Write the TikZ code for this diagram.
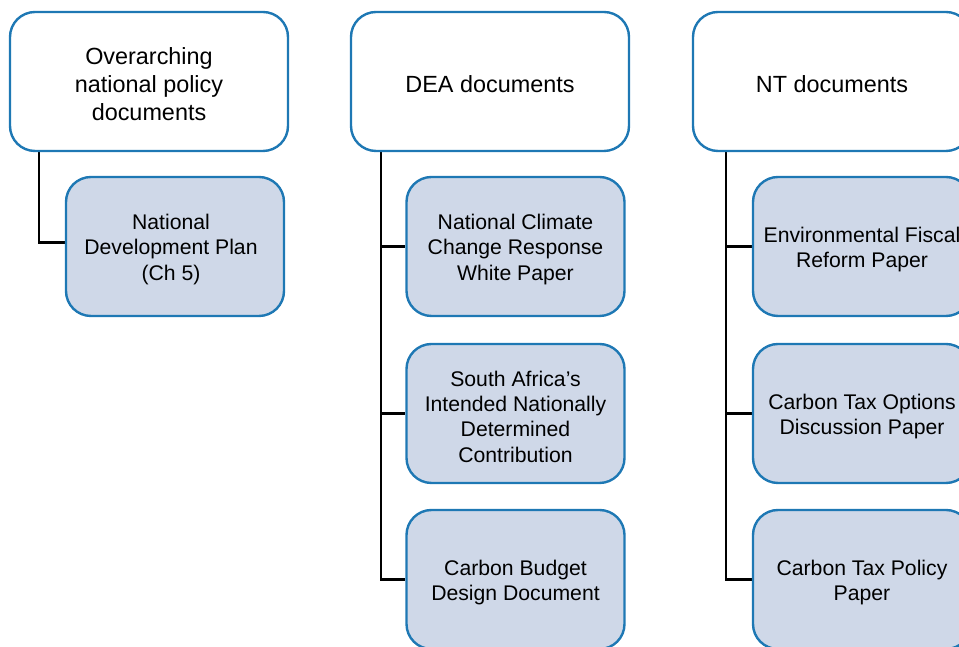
\documentclass[tikz,border=0pt]{standalone}
\usepackage{fontspec}
\setmainfont{Liberation Sans}
\usetikzlibrary{backgrounds}
\definecolor{bordblue}{RGB}{30,120,180}
\definecolor{childfill}{RGB}{207,216,232}
\newcommand{\mybox}[6]{%
  \node[#1] (#2) at (#3) {};
  \node[#4, anchor=center] (#2-t) at ([xshift=#6,yshift=-3pt]#2.center) {#5};}
\begin{document}
\begin{tikzpicture}[x=1pt,y=1pt,
  boxbase/.style={draw=bordblue, line width=2.4pt, rounded corners=25pt,
    minimum height=139pt, inner sep=0pt},
  topbox/.style={boxbase, fill=white, minimum width=278pt},
  childbox/.style={boxbase, fill=childfill, minimum width=218pt},
  toptext/.style={align=center, inner sep=0pt, font=\fontsize{23.4}{28}\selectfont},
  childtext/.style={align=center, inner sep=0pt, font=\fontsize{21.2}{25.3}\selectfont},
  conn/.style={draw=black, line width=2.5pt}]
\useasboundingbox (0,0) rectangle (959,647);
\clip (0,0) rectangle (959,647);
% top boxes
\mybox{topbox}{t1}{149,565.5}{toptext}{Overarching\\national policy\\documents}{0pt}
\mybox{topbox}{t2}{490,565.5}{toptext}{DEA documents}{0pt}
\mybox{topbox}{t3}{832,565.5}{toptext}{NT documents}{0pt}
% children
\mybox{childbox}{c1}{175,400.5}{childtext}{National\\Development Plan\\(Ch 5)}{-4pt}
\mybox{childbox}{d1}{515.5,400.5}{childtext}{National Climate\\Change Response\\White Paper}{0pt}
\mybox{childbox}{d2}{515.5,233.5}{childtext}{South Africa’s\\Intended Nationally\\Determined\\Contribution}{0pt}
\mybox{childbox}{d3}{515.5,67.5}{childtext}{Carbon Budget\\Design Document}{0pt}
\mybox{childbox}{n1}{862,400.5}{childtext}{Environmental Fiscal\\Reform Paper}{0pt}
\mybox{childbox}{n2}{862,233.5}{childtext}{Carbon Tax Options\\Discussion Paper}{0pt}
\mybox{childbox}{n3}{862,67.5}{childtext}{Carbon Tax Policy\\Paper}{0pt}
% connectors (behind boxes)
\begin{pgfonlayer}{background}
\draw[conn] ([xshift=30pt]t1.south west) |- ([yshift=4pt]c1.west);
\draw[conn] ([xshift=31pt]t2.south west) |- (d1.west);
\draw[conn] ([xshift=31pt]t2.south west) |- (d2.west);
\draw[conn] ([xshift=31pt]t2.south west) |- (d3.west);
\draw[conn] ([xshift=34pt]t3.south west) |- (n1.west);
\draw[conn] ([xshift=34pt]t3.south west) |- (n2.west);
\draw[conn] ([xshift=34pt]t3.south west) |- (n3.west);
\end{pgfonlayer}
\end{tikzpicture}
\end{document}
